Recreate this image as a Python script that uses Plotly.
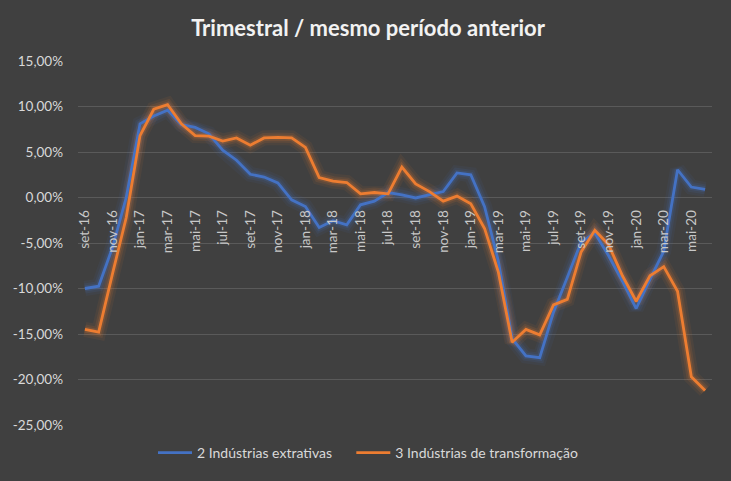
import plotly.graph_objects as go

# meses de set-16 a jun-20
meses = ["jan", "fev", "mar", "abr", "mai", "jun", "jul", "ago", "set", "out", "nov", "dez"]
categorias = []
for i in range(46):
    m = (8 + i) % 12
    ano = 16 + (8 + i) // 12
    categorias.append(f"{meses[m]}-{ano}")

extrativas = [
    -10.0, -9.75, -5.5, 0.0, 8.1, 8.95, 9.6, 8.0, 7.7, 7.0,
    5.2, 4.1, 2.55, 2.25, 1.6, -0.25, -1.0, -3.3, -2.55, -3.0,
    -0.8, -0.4, 0.55, 0.3, -0.05, 0.3, 0.65, 2.7, 2.5, -1.0,
    -7.0, -15.5, -17.4, -17.6, -12.6, -8.8, -4.9, -3.9, -6.4, -9.2,
    -12.2, -9.0, -5.9, 3.05, 1.15, 0.9,
]
transformacao = [
    -14.5, -14.8, -8.4, -2.2, 6.8, 9.7, 10.2, 8.1, 6.8, 6.75,
    6.2, 6.55, 5.75, 6.55, 6.6, 6.55, 5.5, 2.2, 1.8, 1.65,
    0.4, 0.55, 0.4, 3.35, 1.5, 0.65, -0.4, 0.15, -0.7, -3.4,
    -8.2, -15.9, -14.5, -15.1, -11.8, -11.2, -6.0, -3.6, -5.2, -8.6,
    -11.4, -8.6, -7.6, -10.3, -19.7, -21.2,
]

y_ticks = [15, 10, 5, 0, -5, -10, -15, -20, -25]
y_labels = [f"{v:.2f}%".replace(".", ",") for v in y_ticks]

series = [
    ("2 Indústrias extrativas" + "\u00a0" * 4, extrativas, "#4472C4"),
    ("3 Indústrias de transformação", transformacao, "#ED7D31"),
]

fig = go.Figure()

# efeito de brilho (glow) por baixo das linhas
for nome, vals, cor in series:
    for w, op in [(15, 0.07), (10, 0.11), (6, 0.18)]:
        fig.add_trace(go.Scatter(
            x=categorias, y=vals, mode="lines",
            line=dict(color=cor, width=w),
            opacity=op, showlegend=False, hoverinfo="skip",
        ))

for nome, vals, cor in series:
    fig.add_trace(go.Scatter(
        x=categorias, y=vals, mode="lines", name=nome,
        line=dict(color=cor, width=2.8),
    ))

L, R, T, B = 78, 19, 61, 56
H, W = 481, 731
ph = H - T - B
pw = W - L - R

fig.update_layout(
    width=W, height=H,
    margin=dict(l=L, r=R, t=T, b=B),
    paper_bgcolor="#404040",
    plot_bgcolor="#404040",
    font=dict(family="Lato", color="#d9d9d9", size=13),
    title=dict(
        text="<b>Trimestral / mesmo período anterior</b>",
        x=(368 - L) / pw, xref="paper", xanchor="center", y=1 - 28 / H, yanchor="middle",
        font=dict(family="Lato", size=22, color="#f2f2f2"),
    ),
    xaxis=dict(
        type="category",
        range=[-0.5, 45.5],
        tickvals=categorias[::2],
        ticktext=categorias[::2],
        tickangle=-90,
        showgrid=False,
        showline=False,
        zeroline=False,
        ticks="",
        anchor="free",
        position=(0 - (-25)) / 40,
        ticklabelstandoff=9,
        tickfont=dict(size=13.5, color="#c8c8c8"),
    ),
    yaxis=dict(
        range=[-25, 15],
        tickvals=y_ticks,
        ticktext=y_labels,
        showgrid=True,
        gridcolor="#5a5a5a",
        gridwidth=1,
        zeroline=False,
        showline=False,
        ticks="",
        ticklabelstandoff=14,
        tickfont=dict(size=13.5, color="#d9d9d9"),
    ),
    legend=dict(
        orientation="h",
        x=(153 - L) / pw, xanchor="left",
        y=-(453 - (H - B)) / ph, yanchor="middle",
        font=dict(size=14, color="#d9d9d9"),
        bgcolor="rgba(0,0,0,0)",
        itemwidth=34,
    ),
)

fig.write_html(
    "out.html", config={"displayModeBar": False},
    post_script="document.body.style.margin='0';document.body.style.background='#404040';",
)
